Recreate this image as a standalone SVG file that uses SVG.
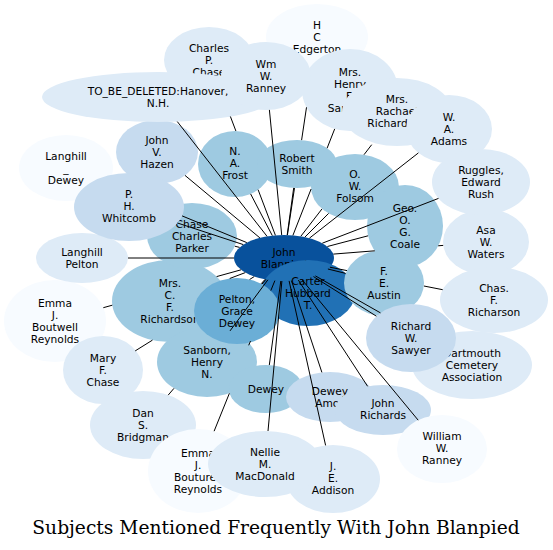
<svg xmlns="http://www.w3.org/2000/svg" width="553" height="550" viewBox="0 0 553 550">
<style>
.n text{font-family:"DejaVu Sans","Liberation Sans",sans-serif;font-size:10.67px;text-anchor:middle;fill:#000}
.c0{fill:#08519c}.c1{fill:#2171b5}.c2{fill:#6baed6}.c3{fill:#9ecae1}.c4{fill:#c6dbef}.c5{fill:#deebf7}.c6{fill:#f7fbff}
#edges path{fill:none;stroke:#000;stroke-width:1}
.title{font-family:"DejaVu Serif","Liberation Serif",serif;font-size:18.67px;text-anchor:middle;fill:#000}
</style>
<rect width="553" height="550" fill="#fff"/>
<g id="nodes" class="n">
<g id="john-blanpied"><ellipse class="c0" cx="284" cy="258" rx="50" ry="23"/><text x="284" y="256">John</text><text x="284" y="268">Blanpied</text></g>
<g id="carter-hubbard"><ellipse class="c1" cx="308" cy="293" rx="47" ry="33"/><text x="308" y="285">Carter</text><text x="308" y="297">Hubbard</text><text x="308" y="309">T.</text></g>
<g id="emma-boutwell"><ellipse class="c6" cx="55" cy="321" rx="51" ry="41"/><text x="55" y="307">Emma</text><text x="55" y="319">J.</text><text x="55" y="331">Boutwell</text><text x="55" y="343">Reynolds</text></g>
<g id="mary-chase"><ellipse class="c5" cx="103" cy="370" rx="40" ry="34"/><text x="103" y="362">Mary</text><text x="103" y="374">F.</text><text x="103" y="386">Chase</text></g>
<g id="dan-bridgman"><ellipse class="c5" cx="143" cy="425" rx="53" ry="34"/><text x="143" y="417">Dan</text><text x="143" y="429">S.</text><text x="143" y="441">Bridgman</text></g>
<g id="emma-bouturell"><ellipse class="c6" cx="198" cy="471" rx="50" ry="42"/><text x="198" y="457">Emma</text><text x="198" y="469">J.</text><text x="198" y="481">Bouturell</text><text x="198" y="493">Reynolds</text></g>
<g id="mrs-cf-richardson"><ellipse class="c3" cx="170" cy="301" rx="58" ry="41"/><text x="170" y="287">Mrs.</text><text x="170" y="299">C.</text><text x="170" y="311">F.</text><text x="170" y="323">Richardson</text></g>
<g id="sanborn-henry"><ellipse class="c3" cx="207" cy="362" rx="50" ry="35"/><text x="207" y="354">Sanborn,</text><text x="207" y="366">Henry</text><text x="207" y="378">N.</text></g>
<g id="pelton-grace"><ellipse class="c2" cx="237" cy="311" rx="43" ry="33"/><text x="237" y="303">Pelton,</text><text x="237" y="315">Grace</text><text x="237" y="327">Dewey</text></g>
<g id="dewey"><ellipse class="c3" cx="266" cy="389" rx="37" ry="24"/><text x="266" y="393">Dewey</text></g>
<g id="je-addison"><ellipse class="c5" cx="333" cy="479" rx="47" ry="34"/><text x="333" y="470">J.</text><text x="333" y="482">E.</text><text x="333" y="494">Addison</text></g>
<g id="nellie-macdonald"><ellipse class="c5" cx="265" cy="464" rx="57" ry="33"/><text x="265" y="456">Nellie</text><text x="265" y="468">M.</text><text x="265" y="480">MacDonald</text></g>
<g id="chase-charles-parker"><ellipse class="c3" cx="192" cy="236" rx="45" ry="33"/><text x="192" y="228">Chase</text><text x="192" y="240">Charles</text><text x="192" y="252">Parker</text></g>
<g id="langhill-pelton"><ellipse class="c5" cx="82" cy="258" rx="46" ry="25"/><text x="82" y="256">Langhill</text><text x="82" y="268">Pelton</text></g>
<g id="langhill-dewey"><ellipse class="c6" cx="66" cy="168" rx="47" ry="33"/><text x="66" y="160">Langhill</text><text x="66" y="172">_</text><text x="66" y="184">Dewey</text></g>
<g id="john-hazen"><ellipse class="c4" cx="157" cy="152" rx="41" ry="32"/><text x="157" y="144">John</text><text x="157" y="156">V.</text><text x="157" y="168">Hazen</text></g>
<g id="ph-whitcomb"><ellipse class="c4" cx="129" cy="207" rx="55" ry="34"/><text x="129" y="198">P.</text><text x="129" y="210">H.</text><text x="129" y="222">Whitcomb</text></g>
<g id="charles-chase"><ellipse class="c5" cx="209" cy="60" rx="45" ry="33"/><text x="209" y="52">Charles</text><text x="209" y="64">P.</text><text x="209" y="76">Chase</text></g>
<g id="na-frost"><ellipse class="c3" cx="235" cy="164" rx="37" ry="33"/><text x="235" y="155">N.</text><text x="235" y="167">A.</text><text x="235" y="179">Frost</text></g>
<g id="to-be-deleted"><ellipse class="c5" cx="158" cy="97" rx="116" ry="25"/><text x="158" y="95">TO_BE_DELETED:Hanover,</text><text x="158" y="107">N.H.</text></g>
<g id="hc-edgerton"><ellipse class="c6" cx="317" cy="37" rx="51" ry="33"/><text x="317" y="29">H</text><text x="317" y="41">C</text><text x="317" y="53">Edgerton</text></g>
<g id="mrs-henry-sanborn"><ellipse class="c5" cx="350" cy="90" rx="48" ry="41"/><text x="350" y="76">Mrs.</text><text x="350" y="88">Henry</text><text x="350" y="100">F.</text><text x="350" y="112">Sanborn</text></g>
<g id="mrs-rachael-richardson"><ellipse class="c5" cx="397" cy="112" rx="55" ry="34"/><text x="397" y="103">Mrs.</text><text x="397" y="115">Rachael</text><text x="397" y="127">Richardson</text></g>
<g id="robert-smith"><ellipse class="c3" cx="297" cy="164" rx="40" ry="24"/><text x="297" y="162">Robert</text><text x="297" y="174">Smith</text></g>
<g id="wm-ranney"><ellipse class="c5" cx="266" cy="76" rx="45" ry="34"/><text x="266" y="68">Wm</text><text x="266" y="80">W.</text><text x="266" y="92">Ranney</text></g>
<g id="ow-folsom"><ellipse class="c3" cx="355" cy="187" rx="44" ry="33"/><text x="355" y="178">O.</text><text x="355" y="190">W.</text><text x="355" y="202">Folsom</text></g>
<g id="wa-adams"><ellipse class="c5" cx="449" cy="129" rx="43" ry="34"/><text x="449" y="121">W.</text><text x="449" y="133">A.</text><text x="449" y="145">Adams</text></g>
<g id="asa-waters"><ellipse class="c5" cx="486" cy="242" rx="43" ry="33"/><text x="486" y="234">Asa</text><text x="486" y="246">W.</text><text x="486" y="258">Waters</text></g>
<g id="geo-coale"><ellipse class="c3" cx="405" cy="226" rx="38" ry="41"/><text x="405" y="212">Geo.</text><text x="405" y="224">O.</text><text x="405" y="236">G.</text><text x="405" y="248">Coale</text></g>
<g id="ruggles"><ellipse class="c5" cx="481" cy="182" rx="49" ry="33"/><text x="481" y="174">Ruggles,</text><text x="481" y="186">Edward</text><text x="481" y="198">Rush</text></g>
<g id="chas-richarson"><ellipse class="c5" cx="494" cy="300" rx="54" ry="33"/><text x="494" y="292">Chas.</text><text x="494" y="304">F.</text><text x="494" y="316">Richarson</text></g>
<g id="fe-austin"><ellipse class="c3" cx="384" cy="283" rx="40" ry="33"/><text x="384" y="275">F.</text><text x="384" y="287">E.</text><text x="384" y="299">Austin</text></g>
<g id="dartmouth-cemetery"><ellipse class="c5" cx="472" cy="365" rx="60" ry="34"/><text x="472" y="357">Dartmouth</text><text x="472" y="369">Cemetery</text><text x="472" y="381">Association</text></g>
<g id="richard-sawyer"><ellipse class="c4" cx="411" cy="338" rx="45" ry="34"/><text x="411" y="330">Richard</text><text x="411" y="342">W.</text><text x="411" y="354">Sawyer</text></g>
<g id="dewey-amos"><ellipse class="c4" cx="330" cy="397" rx="44" ry="25"/><text x="330" y="395">Dewey</text><text x="330" y="407">Amos</text></g>
<g id="john-richards"><ellipse class="c4" cx="383" cy="410" rx="48" ry="25"/><text x="383" y="407">John</text><text x="383" y="419">Richards</text></g>
<g id="william-ranney"><ellipse class="c6" cx="442" cy="449" rx="45" ry="34"/><text x="442" y="440">William</text><text x="442" y="452">W.</text><text x="442" y="464">Ranney</text></g>
</g>
<g id="edges">
<path d="M241.1,269.8L216.6,276.6M112.3,305.2L103.3,307.7"/>
<path d="M254.3,276.5L249.6,279.5M152.5,340.1L135.2,350.9"/>
<path d="M265.9,279.4L262.0,284.1M174.0,388.3L168.2,395.1"/>
<path d="M274.9,280.6L270.8,290.6M250.5,341.1L248.7,345.3M229.4,393.3L214.1,431.2"/>
<path d="M245.3,272.6L229.7,278.5"/>
<path d="M267.9,279.8L230.0,330.9"/>
<path d="M265.1,279.3L261.2,283.7"/>
<path d="M280.8,281.0L269.3,365.1"/>
<path d="M289.1,280.9L325.6,445.4"/>
<path d="M281.9,281.0L268.0,431.0"/>
<path d="M239.6,247.4L234.8,246.2"/>
<path d="M234,258L128,258"/>
<path d="M246.8,242.6L182.1,215.9"/>
<path d="M259.9,237.9L185.0,175.4"/>
<path d="M243.3,244.6L177.5,223.0"/>
<path d="M275.4,235.3L258.1,189.7M235.9,131.0L230.4,116.5"/>
<path d="M272.3,235.6L250.6,193.9"/>
<path d="M267.1,236.4L177.3,121.6"/>
<path d="M287.4,235.1L294.5,188.0M301.6,140.1L306.5,107.3"/>
<path d="M292.9,235.4L311.1,189.0M327.1,148.2L334.7,128.9"/>
<path d="M300.8,236.3L322.0,208.9M364.0,154.7L371.7,144.7"/>
<path d="M287.2,235.0L293.7,187.9"/>
<path d="M281.7,235.0L269.4,109.9"/>
<path d="M304.9,237.1L328.6,213.4"/>
<path d="M309.4,238.2L418.4,152.9"/>
<path d="M333.3,254.1L374.8,250.8M438.2,245.8L443.2,245.4"/>
<path d="M327.4,246.5L368.1,235.8"/>
<path d="M322.3,243.2L438.5,198.4"/>
<path d="M329.9,267.2L347.0,270.6M423.9,286.0L442.7,289.7"/>
<path d="M327.9,269.0L345.7,273.4"/>
<path d="M315.4,275.9L380.5,312.9"/>
<path d="M313.5,276.6L376.4,316.2"/>
<path d="M291.5,280.7L321.9,372.4"/>
<path d="M298.3,280.0L367.6,386.3"/>
<path d="M301.8,279.5L418.2,420.2"/>
</g>
<text class="title" x="276" y="534">Subjects Mentioned Frequently With John Blanpied</text>
</svg>
